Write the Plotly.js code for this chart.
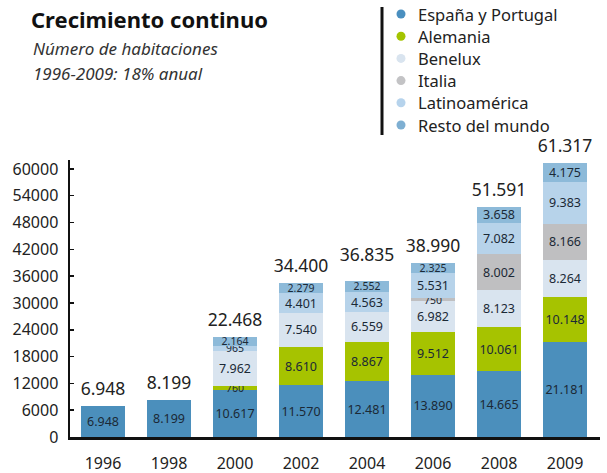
<!DOCTYPE html>
<html lang="es">
<head>
<meta charset="UTF-8">
<title>Crecimiento continuo</title>
<script src="https://cdn.plot.ly/plotly-3.0.1.min.js"></script>
<style>
  body { margin: 0; background: white; }
  #chart { width: 607px; height: 473px; }
</style>
</head>
<body>
<div id="chart"></div>
<script>
const years = ['1996', '1998', '2000', '2002', '2004', '2006', '2008', '2009'];
const espana = [6948, 8199, 10617, 11570, 12481, 13890, 14665, 21181];
const alemania = [null, null, 760, 8610, 8867, 9512, 10061, 10148];
const benelux = [null, null, 7962, 7540, 6559, 6982, 8123, 8264];
const italia = [null, null, null, null, null, 750, 8002, 8166];
const latam = [null, null, 965, 4401, 4563, 5531, 7082, 9383];
const resto = [null, null, 2164, 2279, 2552, 2325, 3658, 4175];
const totals = [6948, 8199, 22468, 34400, 36835, 38990, 51591, 61317];

const seriesNames = ['España y Portugal', 'Alemania', 'Benelux', 'Italia', 'Latinoamérica', 'Resto del mundo'];
const seriesValues = [espana, alemania, benelux, italia, latam, resto];
const barColors = ['#4b8fbc', '#a6c300', '#d9e4ef', '#bfbfc1', '#b7d3ea', '#8dbad9'];
const dotColors = ['#4a8fbf', '#a4c400', '#d9e4ef', '#c3c3c5', '#b6d3ec', '#7eafd2'];

const FONT = '"Noto Sans", "Open Sans", sans-serif';

// plot area in px: left 70, right 600, top 160, bottom 437
const L = 70, R = 600, T = 160, B = 437;
const px = x => (x - L) / (R - L);
const py = y => (B - y) / (B - T);

const traces = seriesValues.map((vals, i) => ({
  type: 'bar',
  x: years,
  y: vals,
  name: seriesNames[i],
  marker: { color: barColors[i], line: { width: 0 } },
  texttemplate: '%{y:,}',
  textposition: 'inside',
  insidetextanchor: 'middle',
  textangle: 0,
  constraintext: 'none',
  // thin slices get a smaller label so they collide less
  textfont: {
    family: FONT,
    size: vals.map(v => (v !== null && v < 3000) ? 10.5 : 12.5),
    color: '#1b2936'
  },
  showlegend: false,
  hoverinfo: 'skip'
}));

// totals above each bar
traces.push({
  type: 'scatter',
  mode: 'markers+text',
  x: years,
  y: totals,
  texttemplate: '%{y:,}',
  textposition: 'top center',
  textfont: { family: FONT, size: 17.5, color: '#222' },
  marker: { size: 9, opacity: 0 },
  cliponaxis: false,
  showlegend: false,
  hoverinfo: 'skip'
});

// legend: dots + labels on the right
const legendTop = 14, legendStep = 22.2;
const shapes = [{
  type: 'line', xref: 'paper', yref: 'paper',
  x0: px(382), x1: px(382), y0: py(135), y1: py(7),
  line: { color: '#111', width: 3 }
}];
const annotations = [];
seriesNames.forEach((name, i) => {
  const yy = py(legendTop + i * legendStep);
  shapes.push({
    type: 'circle', xref: 'paper', yref: 'paper',
    xsizemode: 'pixel', ysizemode: 'pixel',
    xanchor: px(401), yanchor: yy,
    x0: -4.5, x1: 4.5, y0: -4.5, y1: 4.5,
    fillcolor: dotColors[i], line: { width: 0 }
  });
  annotations.push({
    xref: 'paper', yref: 'paper', x: px(416), y: yy,
    xanchor: 'left', yanchor: 'middle', showarrow: false,
    text: name,
    font: { family: FONT, size: 16.5, color: '#222' }
  });
});

annotations.push(
  { xref: 'paper', yref: 'paper', x: px(31), y: py(48), xanchor: 'left', yanchor: 'middle',
    text: '<i>Número de habitaciones</i>', showarrow: false,
    font: { family: FONT, size: 17, color: '#333' } },
  { xref: 'paper', yref: 'paper', x: px(31), y: py(73), xanchor: 'left', yanchor: 'middle',
    text: '<i>1996-2009: 18% anual</i>', showarrow: false,
    font: { family: FONT, size: 17, color: '#333' } }
);

const layout = {
  width: 607, height: 473,
  margin: { l: L, r: 607 - R, t: T, b: 473 - B },
  paper_bgcolor: 'white', plot_bgcolor: 'white',
  separators: ',.',
  barmode: 'stack',
  bargap: 0.32,
  title: {
    text: '<b>Crecimiento continuo</b>',
    xref: 'container', yref: 'container',
    x: 31 / 607, xanchor: 'left',
    y: 1 - 20 / 473, yanchor: 'middle',
    font: { family: FONT, size: 22, color: '#111' }
  },
  xaxis: {
    type: 'category',
    range: [-0.5, 7.53],
    showline: true, linecolor: '#111', linewidth: 2.5,
    ticks: '', showgrid: false, zeroline: false,
    tickfont: { family: FONT, size: 16, color: '#222' },
    ticklabelstandoff: 10
  },
  yaxis: {
    range: [0, 62000],
    tick0: 0, dtick: 6000,
    tickformat: 'd',
    showline: true, linecolor: '#111', linewidth: 2.5,
    ticks: 'inside', ticklen: 4, tickwidth: 1.5, tickcolor: '#111',
    showgrid: false, zeroline: false,
    tickfont: { family: FONT, size: 16, color: '#222' },
    ticklabelstandoff: 6
  },
  showlegend: false,
  shapes: shapes,
  annotations: annotations
};

Plotly.newPlot('chart', traces, layout, { displayModeBar: false, staticPlot: true });
</script>
</body>
</html>
